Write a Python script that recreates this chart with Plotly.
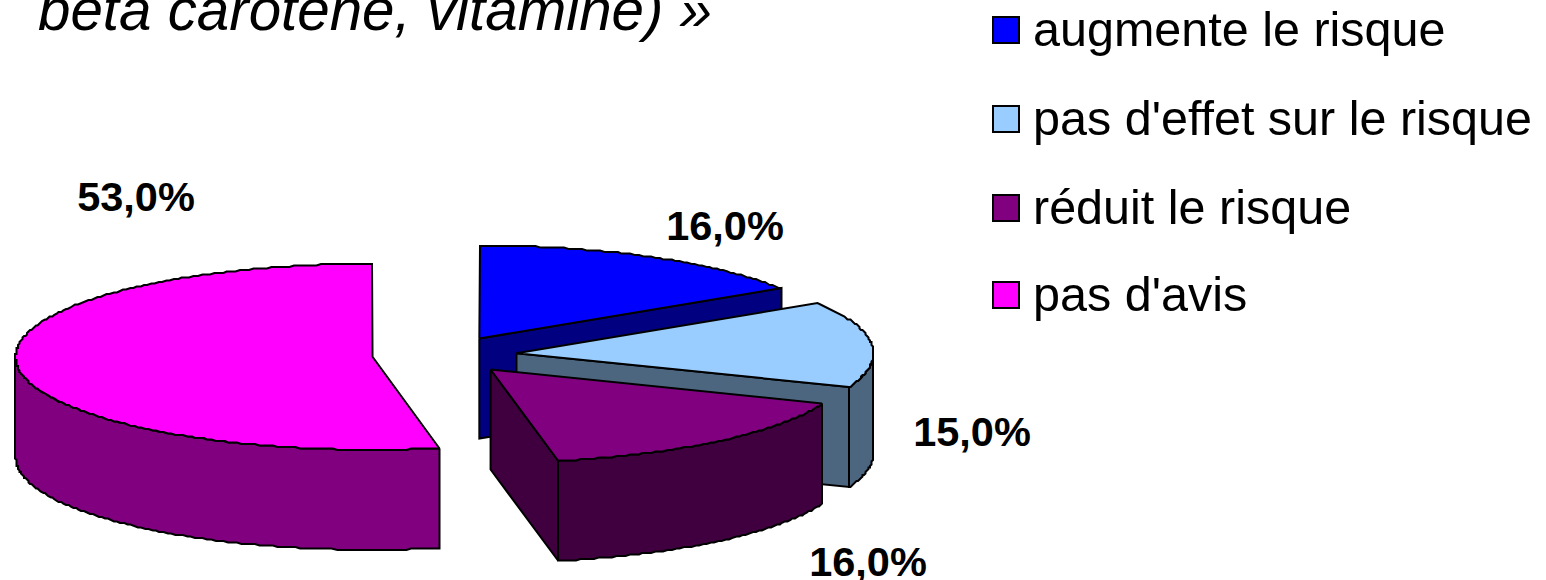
import numpy as np
import plotly.graph_objects as go

# Survey shares, in percent
categories = ["augmente le risque", "pas d'effet sur le risque", "réduit le risque", "pas d'avis"]
shares = [16.0, 15.0, 16.0, 53.0]
title_text = "béta carotène, vitamine) »"

top_colors = ["#0000FF", "#99CCFF", "#800080", "#FF00FF"]
wall_colors = ["#000080", "#4D6680", "#400040", "#800080"]

# Projection of the exploded pie onto the page (pixel axes)
CX, CY = 444.5, 355.0
RX, RY = 357.0, 93.0
DEPTH = 100.0
EXPLODE = 0.2025
SNAP = 1.5

label_pos = [(725, 230), (972, 436), (868, 566), (136, 201)]
legend_y = [30, 119, 208, 295]


def rim(apex, a, dz=0.0):
    a = np.radians(a)
    x = apex[0] + RX * np.sin(a)
    y = apex[1] - RY * np.cos(a) + dz
    # coarse outline, as old chart renderers draw their ellipses
    return np.round(x / SNAP) * SNAP, np.round(y / SNAP) * SNAP


def arc(a0, a1):
    n = max(2, int(abs(a1 - a0) / 0.75) + 1)
    return np.linspace(a0, a1, n)


def poly(fig, xs, ys, color):
    fig.add_trace(go.Scatter(
        x=np.r_[xs, xs[0]], y=np.r_[ys, ys[0]], mode="lines", fill="toself",
        fillcolor=color, line=dict(color="#000000", width=2),
        hoverinfo="skip", showlegend=False, cliponaxis=False,
    ))


fig = go.Figure()

start = 0.0
for name, share, top, wall in zip(categories, shares, top_colors, wall_colors):
    sweep = share * 3.6
    end = start + sweep
    mid = np.radians(start + sweep / 2)
    apex = (CX + EXPLODE * RX * np.sin(mid), CY - EXPLODE * RY * np.cos(mid))

    # flat cut faces that turn towards the viewer
    for edge, visible in ((start, np.sin(np.radians(start)) < -1e-6),
                          (end, np.sin(np.radians(end)) > 1e-6)):
        if visible:
            ex, ey = rim(apex, edge)
            poly(fig, [apex[0], ex, ex, apex[0]],
                 [apex[1], ey, ey + DEPTH, apex[1] + DEPTH], wall)

    # curved outer wall, front half only
    lo, hi = max(start, 90.0), min(end, 270.0)
    if hi > lo:
        angles = arc(lo, hi)
        ux, uy = rim(apex, angles)
        poly(fig, np.r_[ux, ux[::-1]], np.r_[uy, uy[::-1] + DEPTH], wall)

    # top face
    tx, ty = rim(apex, arc(start, end))
    poly(fig, np.r_[apex[0], tx], np.r_[apex[1], ty], top)

    start = end

# Value labels
for share, (lx, ly) in zip(shares, label_pos):
    fig.add_trace(go.Scatter(
        x=[lx], y=[ly], mode="text", text=[f"{share:.1f}".replace(".", ",") + "%"],
        textposition="middle center", cliponaxis=False, hoverinfo="skip", showlegend=False,
        textfont=dict(family="Liberation Sans", size=41.5, color="#000000", weight="bold"),
    ))

# Legend column
for name, top, ly in zip(categories, top_colors, legend_y):
    fig.add_trace(go.Scatter(
        x=[1006], y=[ly], mode="markers", hoverinfo="skip", showlegend=False,
        marker=dict(symbol="square", size=26, color=top, line=dict(color="#000000", width=2)),
    ))
    fig.add_trace(go.Scatter(
        x=[1033], y=[ly + 4], mode="text", text=[name], textposition="middle right",
        cliponaxis=False, hoverinfo="skip", showlegend=False,
        textfont=dict(family="Liberation Sans", size=48.5, color="#000000"),
    ))

# Last line of the heading, running off the top edge
fig.add_trace(go.Scatter(
    x=[38], y=[15], mode="text", text=[title_text], textposition="middle right",
    cliponaxis=False, hoverinfo="skip", showlegend=False,
    textfont=dict(family="Liberation Sans", size=58.3, color="#000000", style="italic"),
))

fig.update_layout(
    width=1546, height=580, margin=dict(l=0, r=0, t=0, b=0),
    paper_bgcolor="#FFFFFF", plot_bgcolor="#FFFFFF",
    xaxis=dict(range=[0, 1546], visible=False, fixedrange=True),
    yaxis=dict(range=[580, 0], visible=False, fixedrange=True),
)

fig.write_html("out.html", config={"displayModeBar": False})
